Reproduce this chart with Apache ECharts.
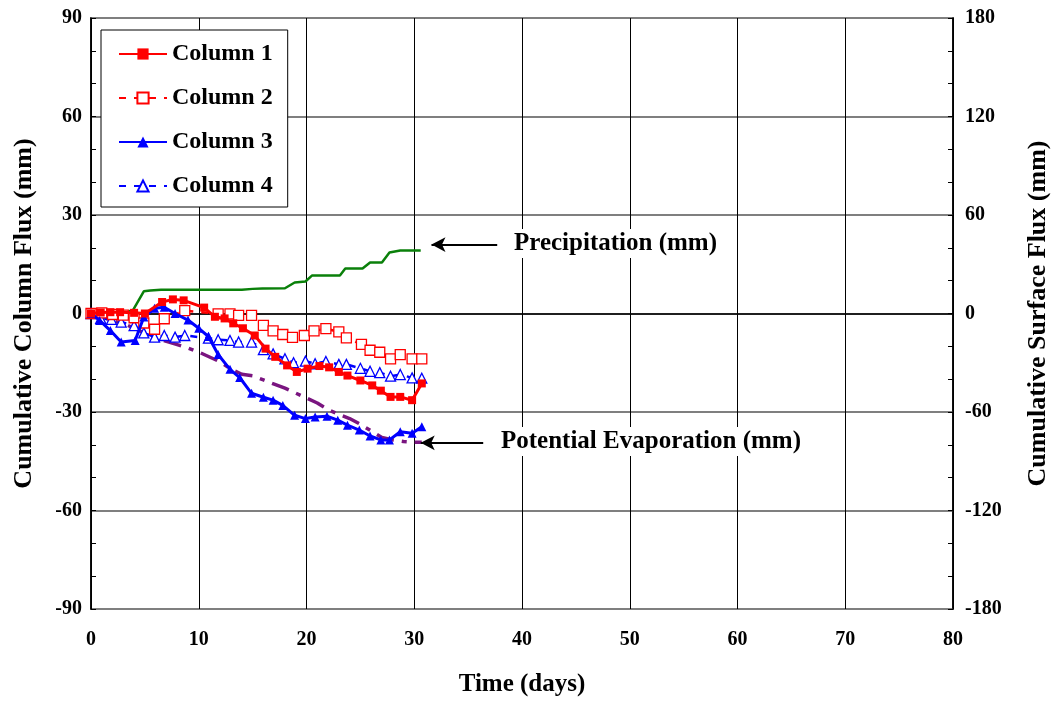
<!DOCTYPE html>
<html>
<head>
<meta charset="utf-8">
<script src="https://cdn.jsdelivr.net/npm/echarts@6/dist/echarts.min.js"></script>
<style>
html,body{margin:0;padding:0;background:#fff;}
#chart{width:1052px;height:703px;}
</style>
</head>
<body>
<div id="chart"></div>
<script>
// ---- Data ----
var xTicks = [0, 10, 20, 30, 40, 50, 60, 70, 80];
var leftTicks = [-90, -60, -30, 0, 30, 60, 90];
var rightTicks = [-180, -120, -60, 0, 60, 120, 180];

var col1Days = [0, 0.9, 1.8, 2.7, 4.0, 5.0, 6.6, 7.6, 8.6, 10.5, 11.5, 12.4, 13.2, 14.1, 15.2, 16.2, 17.1, 18.2, 19.1, 20.1, 21.2, 22.1, 23.0, 23.8, 25.0, 26.1, 26.9, 27.8, 28.7, 29.8, 30.7];
var col1Vals = [0, 0.3, 0.4, 0.4, 0.2, 0.0, 3.5, 4.3, 4.0, 1.8, -1.0, -1.5, -3.0, -4.5, -6.7, -10.7, -13.2, -15.8, -17.8, -16.8, -16.0, -16.4, -17.8, -18.9, -20.4, -21.9, -23.5, -25.4, -25.4, -26.4, -21.3];

var col2Days = [0, 1.0, 2.0, 3.0, 4.0, 4.9, 5.9, 6.8, 8.7, 11.8, 12.9, 13.7, 14.9, 16.0, 16.9, 17.8, 18.7, 19.8, 20.7, 21.8, 23.0, 23.7, 25.1, 25.9, 26.8, 27.8, 28.7, 29.8, 30.7];
var col2Vals = [0, 0.2, -0.3, -0.5, -1.3, -2.9, -4.8, -1.6, 0.9, -0.1, -0.1, -0.6, -0.6, -3.6, -5.3, -6.4, -7.3, -6.7, -5.3, -4.6, -5.6, -7.4, -9.4, -11.2, -11.8, -13.8, -12.5, -13.8, -13.8];

var col3Days = [0, 0.8, 1.8, 2.8, 4.1, 4.9, 5.9, 6.8, 7.8, 9.0, 10.0, 10.9, 11.8, 12.9, 13.8, 14.9, 16.0, 16.9, 17.8, 18.9, 19.9, 20.8, 21.9, 22.9, 23.8, 24.9, 25.9, 26.9, 27.7, 28.7, 29.8, 30.7];
var col3Vals = [0, -2.1, -5.2, -8.7, -8.2, -1.1, 1.6, 1.9, 0.0, -2.0, -4.5, -7.0, -12.5, -17.0, -19.5, -24.3, -25.5, -26.4, -28.0, -31.0, -32.0, -31.5, -31.3, -32.5, -34.0, -35.5, -37.3, -38.5, -38.5, -36.0, -36.5, -34.5];

var col4Days = [0, 0.9, 1.9, 2.8, 4.0, 4.9, 5.9, 6.8, 7.8, 8.7, 10.9, 11.8, 12.9, 13.7, 14.9, 16.0, 16.9, 18.0, 18.8, 19.9, 20.8, 21.8, 23.0, 23.7, 25.0, 25.9, 26.8, 27.8, 28.7, 29.8, 30.7];
var col4Vals = [0, -1.5, -1.8, -2.6, -3.7, -5.9, -7.2, -6.7, -7.2, -6.7, -7.5, -8.0, -8.2, -8.7, -8.7, -11.0, -12.3, -13.8, -15.0, -14.5, -15.3, -14.6, -15.5, -15.5, -16.7, -17.6, -18.0, -19.1, -18.6, -19.6, -19.7];

// Surface fluxes (right axis)
var precipDays = [0, 1, 2, 3, 3.9, 4.9, 5.5, 6.5, 8, 10, 12, 14, 15, 15.9, 18.0, 18.9, 19.9, 20.5, 23.1, 23.6, 25.2, 25.9, 27.0, 27.7, 28.7, 30.6];
var precipVals = [0, 0, 0, 0.5, 2, 13.5, 14, 14.5, 14.5, 14.5, 14.5, 14.5, 15, 15.2, 15.4, 18.9, 19.5, 23.1, 23.1, 27.4, 27.4, 31.1, 31.1, 37.2, 38.4, 38.4];

var peDays = [0, 1, 2, 3, 4, 5, 6, 7, 8, 9, 10, 11, 12, 13, 14, 15, 16, 17, 18, 19, 20, 21, 22, 23, 24, 25, 26, 27, 28, 29, 30, 30.7];
var peVals = [0, -2, -4.5, -6, -9, -12, -15, -17, -19, -21, -23.5, -26.5, -29.5, -34, -37, -38, -40.5, -43, -45.5, -48.5, -51.5, -54.5, -58.5, -61.5, -64, -67.5, -71.5, -75.5, -77, -78, -78.5, -78.5];

function zip(a, b) { return a.map(function (v, i) { return [v, b[i]]; }); }

var FONT = '"Liberation Serif", "Times New Roman", serif';
var chart = echarts.init(document.getElementById('chart'), null, { renderer: 'canvas' });

var option = {
  backgroundColor: '#ffffff',
  animation: false,
  textStyle: { fontFamily: FONT },
  grid: { left: 91, right: 99, top: 18, bottom: 94, outerBoundsMode: 'none', containLabel: false,
          show: true, borderColor: '#000', borderWidth: 1.5, backgroundColor: 'transparent' },
  legend: {
    left: 101, top: 30, orient: 'vertical',
    data: ['Column 1', 'Column 2', 'Column 3', 'Column 4'],
    backgroundColor: '#fff', borderColor: '#000', borderWidth: 1,
    padding: [12, 15, 9, 17],
    itemWidth: 48, itemHeight: 14, itemGap: 20,
    textStyle: { fontFamily: FONT, fontWeight: 'bold', fontSize: 24, color: '#000', lineHeight: 24 }
  },
  xAxis: {
    type: 'value', min: xTicks[0], max: xTicks[xTicks.length - 1], interval: 10,
    name: 'Time (days)', nameLocation: 'middle', nameGap: 63,
    nameTextStyle: { fontFamily: FONT, fontWeight: 'bold', fontSize: 25, color: '#000' },
    axisLine: { lineStyle: { color: '#000', width: 1.5 } },
    axisTick: { inside: true, length: 5, lineStyle: { color: '#000' } },
    axisLabel: { margin: 21, fontFamily: FONT, fontWeight: 'bold', fontSize: 20, color: '#000' },
    splitLine: { show: true, lineStyle: { color: '#000', width: 1 } }
  },
  yAxis: [{
    type: 'value', min: leftTicks[0], max: leftTicks[leftTicks.length - 1], interval: 30,
    name: 'Cumulative Column Flux (mm)', nameLocation: 'middle', nameGap: 54,
    nameTextStyle: { fontFamily: FONT, fontWeight: 'bold', fontSize: 26, color: '#000' },
    axisLine: { show: true, lineStyle: { color: '#000', width: 1.5 } },
    axisTick: { show: true, inside: true, length: 5, lineStyle: { color: '#000' } },
    minorTick: { show: true, splitNumber: 3, length: 5, lineStyle: { color: '#000' } },
    axisLabel: { margin: 9, fontFamily: FONT, fontWeight: 'bold', fontSize: 20, color: '#000' },
    splitLine: { show: true, lineStyle: { color: '#7f7f7f', width: 2 } }
  }, {
    type: 'value', min: rightTicks[0], max: rightTicks[rightTicks.length - 1], interval: 60,
    position: 'right',
    name: 'Cumulative Surface Flux (mm)', nameLocation: 'middle', nameGap: 72, nameRotate: 90,
    nameTextStyle: { fontFamily: FONT, fontWeight: 'bold', fontSize: 26, color: '#000' },
    axisLine: { show: true, lineStyle: { color: '#000', width: 1.5 } },
    axisTick: { show: true, inside: true, length: 5, lineStyle: { color: '#000' } },
    minorTick: { show: true, splitNumber: 3, length: 5, lineStyle: { color: '#000' } },
    axisLabel: { margin: 12, fontFamily: FONT, fontWeight: 'bold', fontSize: 20, color: '#000' },
    splitLine: { show: false }
  }],
  series: [
    {
      name: 'Precipitation', type: 'line', yAxisIndex: 1, data: zip(precipDays, precipVals),
      showSymbol: false, symbol: 'none', lineStyle: { color: '#0a800a', width: 2.5 }, z: 2,
      markLine: {
        silent: true, symbol: ['none', 'arrow'], symbolSize: [11, 14], label: { show: false },
        lineStyle: { color: '#000', width: 2, type: 'solid' },
        data: [[{ coord: [37.7, 42] }, { coord: [31.6, 42] }]]
      }
    },
    {
      name: 'Potential Evaporation', type: 'line', yAxisIndex: 1, data: zip(peDays, peVals),
      showSymbol: false, symbol: 'none', lineStyle: { color: '#7a1580', width: 3.5, type: [18, 8, 5, 8] }, z: 2,
      markLine: {
        silent: true, symbol: ['none', 'arrow'], symbolSize: [11, 14], label: { show: false },
        lineStyle: { color: '#000', width: 2, type: 'solid' },
        data: [[{ coord: [36.4, -78.8] }, { coord: [30.6, -78.8] }]]
      }
    },
    {
      name: 'Column 4', type: 'line', data: zip(col4Days, col4Vals),
      symbol: 'triangle', symbolSize: 10,
      itemStyle: { color: '#fff', borderColor: '#0000ff', borderWidth: 1.3 },
      lineStyle: { color: '#0000ff', width: 2.5, type: [7, 8] }, z: 3
    },
    {
      name: 'Column 2', type: 'line', data: zip(col2Days, col2Vals),
      symbol: 'rect', symbolSize: 10,
      itemStyle: { color: '#fff', borderColor: '#ff0000', borderWidth: 1.3 },
      lineStyle: { color: '#ff0000', width: 2.5, type: [7, 8] }, z: 3
    },
    {
      name: 'Column 3', type: 'line', data: zip(col3Days, col3Vals),
      symbol: 'triangle', symbolSize: 9,
      itemStyle: { color: '#0000ff' },
      lineStyle: { color: '#0000ff', width: 3 }, z: 4
    },
    {
      name: 'Column 1', type: 'line', data: zip(col1Days, col1Vals),
      symbol: 'rect', symbolSize: 8,
      itemStyle: { color: '#ff0000' },
      lineStyle: { color: '#ff0000', width: 3 }, z: 5
    }
  ],
  graphic: [
    {
      type: 'text', left: 510, top: 229, z: 10,
      style: { text: 'Precipitation (mm)', font: 'bold 25px ' + FONT, fill: '#000', backgroundColor: '#fff', padding: [2, 4] }
    },
    {
      type: 'text', left: 497, top: 427, z: 10,
      style: { text: 'Potential Evaporation (mm)', font: 'bold 25px ' + FONT, fill: '#000', backgroundColor: '#fff', padding: [2, 4] }
    }
  ]
};
chart.setOption(option);
</script>
</body>
</html>
